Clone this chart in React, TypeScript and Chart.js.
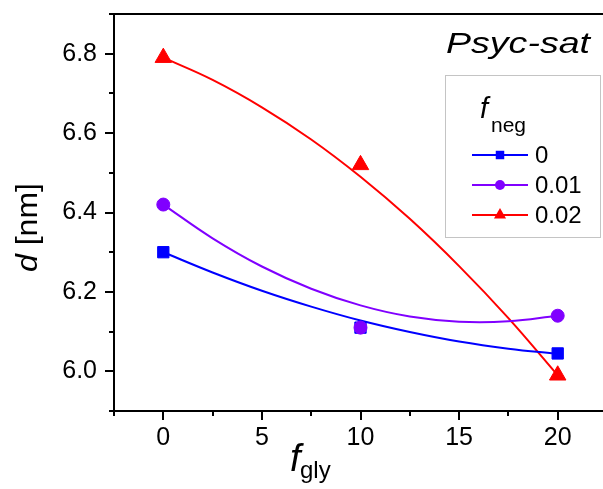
import React, { useEffect, useRef } from 'react';
import { Chart, registerables } from 'chart.js';

Chart.register(...registerables);

// ---- data ----
const seriesLabels = ['0', '0.01', '0.02'];
const seriesColors = ['#0000ff', '#8000ff', '#ff0000'];
const pointStyles = ['rect', 'circle', 'triangle'];
const pointRadii = [8, 6.5, 9.5];

const pointX = [0, 10, 20];
const dNeg0 = [6.30, 6.11, 6.045];
const dNeg001 = [6.42, 6.11, 6.14];
const dNeg002 = [6.79, 6.52, 5.99];

const fitX = [0, 2.5, 5, 7.5, 10, 12.5, 15, 17.5, 20];
const fitNeg0 = [6.30, 6.249, 6.203, 6.163, 6.128, 6.099, 6.075, 6.057, 6.044];
const fitNeg001 = [6.42, 6.335, 6.264, 6.208, 6.166, 6.138, 6.125, 6.126, 6.14];
const fitNeg002 = [6.79, 6.734, 6.665, 6.584, 6.49, 6.384, 6.265, 6.134, 5.99];

const xMajor = [0, 5, 10, 15, 20];
const xMinor = [-2.5, 2.5, 7.5, 12.5, 17.5, 22.5];
const yMajor = [6.0, 6.2, 6.4, 6.6, 6.8];
const yMinor = [5.9, 6.1, 6.3, 6.5, 6.7, 6.9];

const SANS = '"Liberation Sans", Arial, sans-serif';

function drawMarker(ctx: CanvasRenderingContext2D, style: string, x: number, y: number, r: number, color: string) {
  ctx.save();
  ctx.fillStyle = color;
  ctx.beginPath();
  if (style === 'rect') {
    const s = r * Math.SQRT1_2;
    ctx.rect(x - s, y - s, 2 * s, 2 * s);
  } else if (style === 'circle') {
    ctx.arc(x, y, r, 0, Math.PI * 2);
  } else {
    ctx.moveTo(x, y - r);
    ctx.lineTo(x + r * Math.sin((2 * Math.PI) / 3), y - r * Math.cos((2 * Math.PI) / 3));
    ctx.lineTo(x + r * Math.sin((4 * Math.PI) / 3), y - r * Math.cos((4 * Math.PI) / 3));
    ctx.closePath();
  }
  ctx.fill();
  ctx.restore();
}

function fillStretched(ctx: CanvasRenderingContext2D, text: string, x: number, y: number, target: number) {
  const w = ctx.measureText(text).width;
  ctx.save();
  ctx.translate(x, y);
  ctx.scale(target / w, 1);
  ctx.fillText(text, 0, 0);
  ctx.restore();
}

const overlayPlugin = {
  id: 'overlay',
  afterDraw(chart: any) {
    const ctx: CanvasRenderingContext2D = chart.ctx;
    const a = chart.chartArea;
    const xs = chart.scales.x;
    const ys = chart.scales.y;
    ctx.save();
    ctx.strokeStyle = '#000';
    ctx.lineWidth = 2;
    // top and right frame
    ctx.beginPath();
    ctx.moveTo(a.left - 1, a.top);
    ctx.lineTo(a.right, a.top);
    ctx.lineTo(a.right, a.bottom);
    ctx.stroke();
    // ticks (outward)
    ctx.beginPath();
    xMajor.forEach((v) => {
      const p = Math.round(xs.getPixelForValue(v));
      ctx.moveTo(p, a.bottom);
      ctx.lineTo(p, a.bottom + 9);
    });
    xMinor.forEach((v) => {
      const p = Math.round(xs.getPixelForValue(v));
      ctx.moveTo(p, a.bottom);
      ctx.lineTo(p, a.bottom + 5);
    });
    yMajor.forEach((v) => {
      const p = Math.round(ys.getPixelForValue(v));
      ctx.moveTo(a.left, p);
      ctx.lineTo(a.left - 9, p);
    });
    yMinor.forEach((v) => {
      const p = Math.round(ys.getPixelForValue(v));
      ctx.moveTo(a.left, p);
      ctx.lineTo(a.left - 5, p);
    });
    ctx.stroke();

    ctx.fillStyle = '#000';
    ctx.textBaseline = 'alphabetic';
    ctx.textAlign = 'left';

    // in-plot title
    ctx.font = `italic 30px ${SANS}`;
    fillStretched(ctx, 'Psyc-sat', 446, 53, 144);

    // y axis title: d [nm]
    ctx.save();
    ctx.translate(37, 272);
    ctx.rotate(-Math.PI / 2);
    ctx.font = `italic 30px ${SANS}`;
    const dW = ctx.measureText('d').width;
    ctx.font = `30px ${SANS}`;
    const restW = ctx.measureText(' [nm]').width;
    ctx.scale(89 / (dW + restW), 1);
    ctx.font = `italic 30px ${SANS}`;
    ctx.fillText('d', 0, 0);
    ctx.font = `30px ${SANS}`;
    ctx.fillText(' [nm]', dW, 0);
    ctx.restore();

    // x axis title: f_gly
    ctx.font = `italic 38px ${SANS}`;
    ctx.fillText('f', 290, 471);
    ctx.font = `24px ${SANS}`;
    ctx.fillText('gly', 300, 478);

    // legend box
    ctx.fillStyle = '#fff';
    ctx.fillRect(445.5, 75.5, 155, 162);
    ctx.strokeStyle = '#c4c4c4';
    ctx.lineWidth = 1;
    ctx.strokeRect(445.5, 75.5, 155, 162);
    ctx.fillStyle = '#000';
    ctx.font = `italic 29px ${SANS}`;
    ctx.fillText('f', 480, 118);
    ctx.font = `21px ${SANS}`;
    ctx.fillText('neg', 491, 131.5);

    const rows = [155, 185, 215];
    seriesLabels.forEach((lab, i) => {
      const y = rows[i];
      ctx.strokeStyle = seriesColors[i];
      ctx.lineWidth = 2;
      ctx.beginPath();
      ctx.moveTo(472, y);
      ctx.lineTo(528, y);
      ctx.stroke();
      drawMarker(ctx, pointStyles[i], 500, y, [6, 5, 7][i], seriesColors[i]);
      ctx.fillStyle = '#000';
      ctx.font = `24px ${SANS}`;
      ctx.textBaseline = 'middle';
      ctx.fillText(lab, 535, y + 1);
      ctx.textBaseline = 'alphabetic';
    });
    ctx.restore();
  },
};

export default function App() {
  const ref = useRef<HTMLCanvasElement | null>(null);

  useEffect(() => {
    if (!ref.current) return;
    const pointSets = [dNeg0, dNeg001, dNeg002];
    const fitSets = [fitNeg0, fitNeg001, fitNeg002];
    const datasets: any[] = [];
    pointSets.forEach((vals, i) => {
      datasets.push({
        label: seriesLabels[i],
        data: pointX.map((x, k) => ({ x, y: vals[k] })),
        showLine: false,
        pointStyle: pointStyles[i],
        pointRadius: pointRadii[i],
        pointBackgroundColor: seriesColors[i],
        pointBorderColor: seriesColors[i],
        pointBorderWidth: 1,
        order: 2 - i,
      });
    });
    fitSets.forEach((vals, i) => {
      datasets.push({
        label: 'fit ' + seriesLabels[i],
        data: fitX.map((x, k) => ({ x, y: vals[k] })),
        showLine: true,
        borderColor: seriesColors[i],
        borderWidth: 2,
        pointRadius: 0,
        tension: 0.4,
        fill: false,
        order: 10,
      });
    });

    const chart = new Chart(ref.current, {
      type: 'scatter',
      data: { datasets },
      options: {
        animation: false,
        responsive: false,
        devicePixelRatio: 1,
        layout: { padding: { top: 14, right: 33, left: 0, bottom: 0 } },
        plugins: { legend: { display: false }, tooltip: { enabled: false }, title: { display: false } },
        scales: {
          x: {
            type: 'linear',
            min: -2.5,
            max: 22.5,
            afterBuildTicks: (s: any) => {
              s.ticks = xMajor.map((v) => ({ value: v }));
            },
            afterFit: (s: any) => {
              s.height = 78;
              s.paddingLeft = 0;
              s.paddingRight = 0;
              s.paddingTop = 0;
              s.paddingBottom = 0;
            },
            grid: { display: true, drawOnChartArea: false, drawTicks: false },
            border: { display: true, color: '#000', width: 2 },
            ticks: {
              padding: 12,
              color: '#000',
              font: { family: SANS, size: 25 },
              maxRotation: 0,
              autoSkip: false,
            },
          },
          y: {
            type: 'linear',
            min: 5.9,
            max: 6.9,
            afterBuildTicks: (s: any) => {
              s.ticks = yMajor.map((v) => ({ value: v }));
            },
            afterFit: (s: any) => {
              s.width = 114;
              s.paddingLeft = 0;
              s.paddingRight = 0;
              s.paddingTop = 0;
              s.paddingBottom = 0;
            },
            grid: { display: true, drawOnChartArea: false, drawTicks: false },
            border: { display: true, color: '#000', width: 2 },
            ticks: {
              padding: 17,
              color: '#000',
              font: { family: SANS, size: 25 },
              autoSkip: false,
              callback: (v: any) => Number(v).toFixed(1),
            },
          },
        },
      },
      plugins: [overlayPlugin],
    } as any);
    return () => chart.destroy();
  }, []);

  return (
    <div
      style={{
        position: 'fixed',
        left: 0,
        top: 0,
        width: 603,
        height: 489,
        overflow: 'hidden',
        background: '#fff',
      }}
    >
      <canvas ref={ref} width={640} height={489} style={{ width: 640, height: 489, display: 'block' }} />
    </div>
  );
}
